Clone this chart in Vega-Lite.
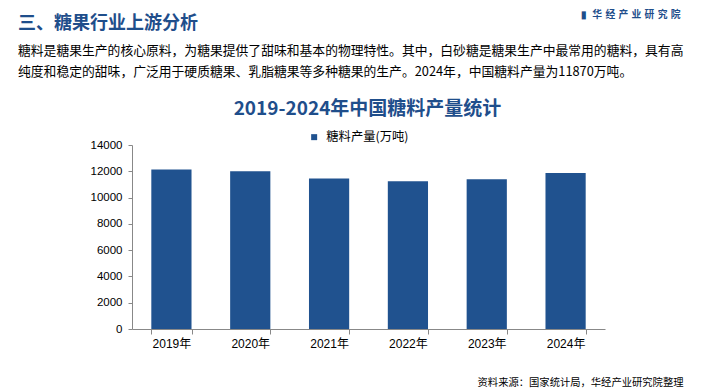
{
  "$schema": "https://vega.github.io/schema/vega-lite/v6.json",
  "width": 473,
  "height": 184,
  "autosize": {"type": "none"},
  "padding": {"left": 132, "top": 145, "right": 100, "bottom": 60},
  "background": "white",
  "title": {
    "text": "\u00a0三、糖果行业上游分析",
    "subtitle": [
      "糖料是糖果生产的核心原料，为糖果提供了甜味和基本的物理特性。其中，白砂糖是糖果生产中最常用的糖料，具有高",
      "纯度和稳定的甜味，广泛用于硬质糖果、乳脂糖果等多种糖果的生产。2024年，中国糖料产量为11870万吨。"
    ],
    "anchor": "start",
    "frame": "group",
    "dx": -114,
    "offset": -70,
    "font": "Noto Sans CJK SC",
    "fontSize": 18,
    "fontWeight": "bold",
    "color": "#1f4e8b",
    "lineHeight": 18,
    "subtitleFont": "Noto Sans CJK SC",
    "subtitleFontSize": 12.8,
    "subtitleColor": "#000000",
    "subtitlePadding": 12,
    "subtitleLineHeight": 21
  },
  "data": {
    "values": [
      {"year": "2019年", "value": 12130, "series": "糖料产量(万吨)"},
      {"year": "2020年", "value": 12000, "series": "糖料产量(万吨)"},
      {"year": "2021年", "value": 11450, "series": "糖料产量(万吨)"},
      {"year": "2022年", "value": 11240, "series": "糖料产量(万吨)"},
      {"year": "2023年", "value": 11390, "series": "糖料产量(万吨)"},
      {"year": "2024年", "value": 11870, "series": "糖料产量(万吨)"}
    ]
  },
  "layer": [
    {
      "mark": {"type": "bar"},
      "encoding": {
        "x": {
          "field": "year",
          "type": "nominal",
          "sort": null,
          "scale": {"paddingInner": 0.49, "paddingOuter": 0.245},
          "axis": {
            "orient": "bottom",
            "title": "资料来源：国家统计局，华经产业研究院整理",
            "titleX": 551,
            "titleY": 53,
            "titleAlign": "right",
            "titleBaseline": "middle",
            "titleFont": "Noto Sans CJK SC",
            "titleFontSize": 10.3,
            "titleFontWeight": "normal",
            "titleColor": "#000000",
            "labelAngle": 0,
            "labelFont": "Liberation Sans, Noto Sans CJK SC",
            "labelFontSize": 12,
            "labelColor": "#000000",
            "labelPadding": 4,
            "tickBand": "extent",
            "tickSize": 5,
            "tickColor": "#888888",
            "domainColor": "#888888"
          }
        },
        "y": {
          "field": "value",
          "type": "quantitative",
          "scale": {"domain": [0, 14000]},
          "axis": {
            "values": [0, 2000, 4000, 6000, 8000, 10000, 12000, 14000],
            "format": "d",
            "grid": false,
            "title": null,
            "labelFont": "Liberation Sans",
            "labelFontSize": 11.5,
            "labelColor": "#000000",
            "labelPadding": 6,
            "tickSize": 4,
            "tickColor": "#888888",
            "domainColor": "#888888"
          }
        },
        "color": {
          "field": "series",
          "type": "nominal",
          "scale": {"range": ["#20528f"]},
          "legend": {
            "orient": "none",
            "legendX": 176,
            "legendY": -14,
            "title": null,
            "padding": 0,
            "symbolType": "square",
            "symbolSize": 36,
            "symbolStrokeWidth": 0,
            "labelFont": "Noto Sans CJK SC",
            "labelFontSize": 12.3,
            "labelColor": "#000000",
            "labelOffset": 6
          }
        }
      }
    },
    {
      "mark": {"type": "bar", "opacity": 0},
      "encoding": {
        "x": {
          "field": "year",
          "type": "nominal",
          "sort": null,
          "axis": {
            "orient": "top",
            "labels": false,
            "ticks": false,
            "domain": false,
            "title": "2019-2024年中国糖料产量统计",
            "titleX": 235,
            "titleY": -37,
            "titleAlign": "center",
            "titleBaseline": "middle",
            "titleFont": "Noto Sans CJK SC",
            "titleFontSize": 19,
            "titleFontWeight": "bold",
            "titleColor": "#1f4e8b"
          }
        },
        "y": {
          "field": "value",
          "type": "quantitative",
          "axis": {
            "orient": "right",
            "labels": false,
            "ticks": false,
            "domain": false,
            "grid": false,
            "title": "▮\u2002华\u2004经\u2004产\u2004业\u2004研\u2004究\u2004院",
            "titleX": 75,
            "titleY": -131,
            "titleAngle": 0,
            "titleAlign": "right",
            "titleBaseline": "middle",
            "titleFont": "Noto Sans CJK SC",
            "titleFontSize": 9.8,
            "titleFontWeight": "bold",
            "titleColor": "#1f4e8b"
          }
        }
      }
    }
  ],
  "resolve": {"axis": {"x": "independent", "y": "independent"}},
  "config": {"view": {"stroke": null}}
}
